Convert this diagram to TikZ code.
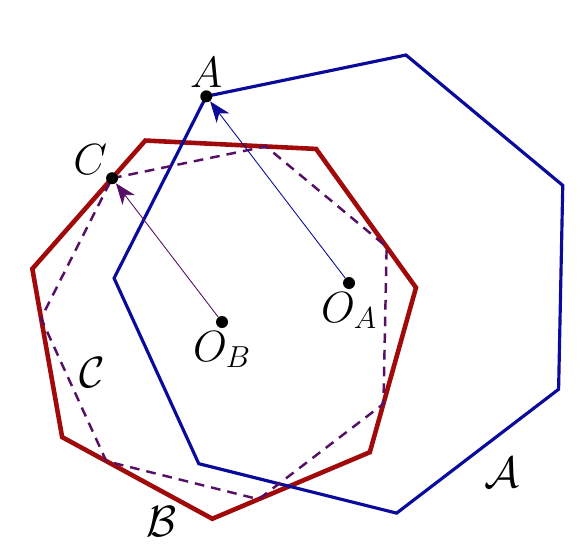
\documentclass[tikz,border=0pt]{standalone}
\usepackage{amsfonts, amsmath, amssymb}
\usepackage{tikz}
\usetikzlibrary{arrows.meta, calc}

\definecolor{hepblue}{RGB}{10,10,155}
\definecolor{hepred}{RGB}{160,10,10}
\definecolor{heppurple}{RGB}{85,15,100}

\begin{document}
\begin{tikzpicture}[x=0.02cm, y=0.02cm]
\tikzstyle{dot}=[circle, fill=black, inner sep=0pt, minimum size=0.24cm]
\tikzstyle{lbl}=[font=\fontsize{24}{28}\selectfont, inner sep=1.5pt]
\tikzstyle{polyA}=[hepblue, line width=1.8pt]
\tikzstyle{polyB}=[hepred, line width=2.6pt]
\tikzstyle{polyC}=[heppurple, line width=1.4pt, dash pattern=on 5.5pt off 4pt]
\tikzstyle{vecA}=[hepblue, line width=0.5pt, -{Stealth[length=12pt, width=9pt, inset=3.5pt]}]
\tikzstyle{vecC}=[heppurple, line width=0.5pt, -{Stealth[length=12pt, width=9pt, inset=3.5pt]}]
    \useasboundingbox (0,0) rectangle (587,549);

    % centres
    \node (OA) [dot, label={[lbl]below:$O_A$}] at (349,266) {};
    \node (OB) [dot, label={[lbl]below:$O_B$}] at (222,227) {};

    % corners of the three heptagons
    \foreach \i in {0,...,6} {
        \coordinate (a\i) at ($(OA)+({127.4-\i*51.4286}:235)$);
        \coordinate (b\i) at ($(OB)+({112.9-\i*51.4286}:197)$);
        \coordinate (c\i) at ($(OB)+({127.4-\i*51.4286}:181)$);
    }

    \draw[polyB] (b0) \foreach \i in {1,...,6} {-- (b\i)} -- cycle;
    \draw[polyA] (a0) \foreach \i in {1,...,6} {-- (a\i)} -- cycle;
    \draw[polyC] (c0) \foreach \i in {1,...,6} {-- (c\i)} -- cycle;

    \node (A) [dot, label={[lbl, yshift=-0.5pt]above:$A$}] at (a0) {};
    \node (C) [dot, label={[lbl, xshift=1.5pt, yshift=-2pt]above left:$C$}] at (c0) {};

    \draw[vecA] (OA) -- (A);
    \draw[vecC] (OB) -- (C);

    \node (setA) [lbl] at (502,76) {$\mathcal{A}$};
    \node (setB) [lbl] at (162,27) {$\mathcal{B}$};
    \node (setC) [lbl] at (92,176) {$\mathcal{C}$};
\end{tikzpicture}
\end{document}
